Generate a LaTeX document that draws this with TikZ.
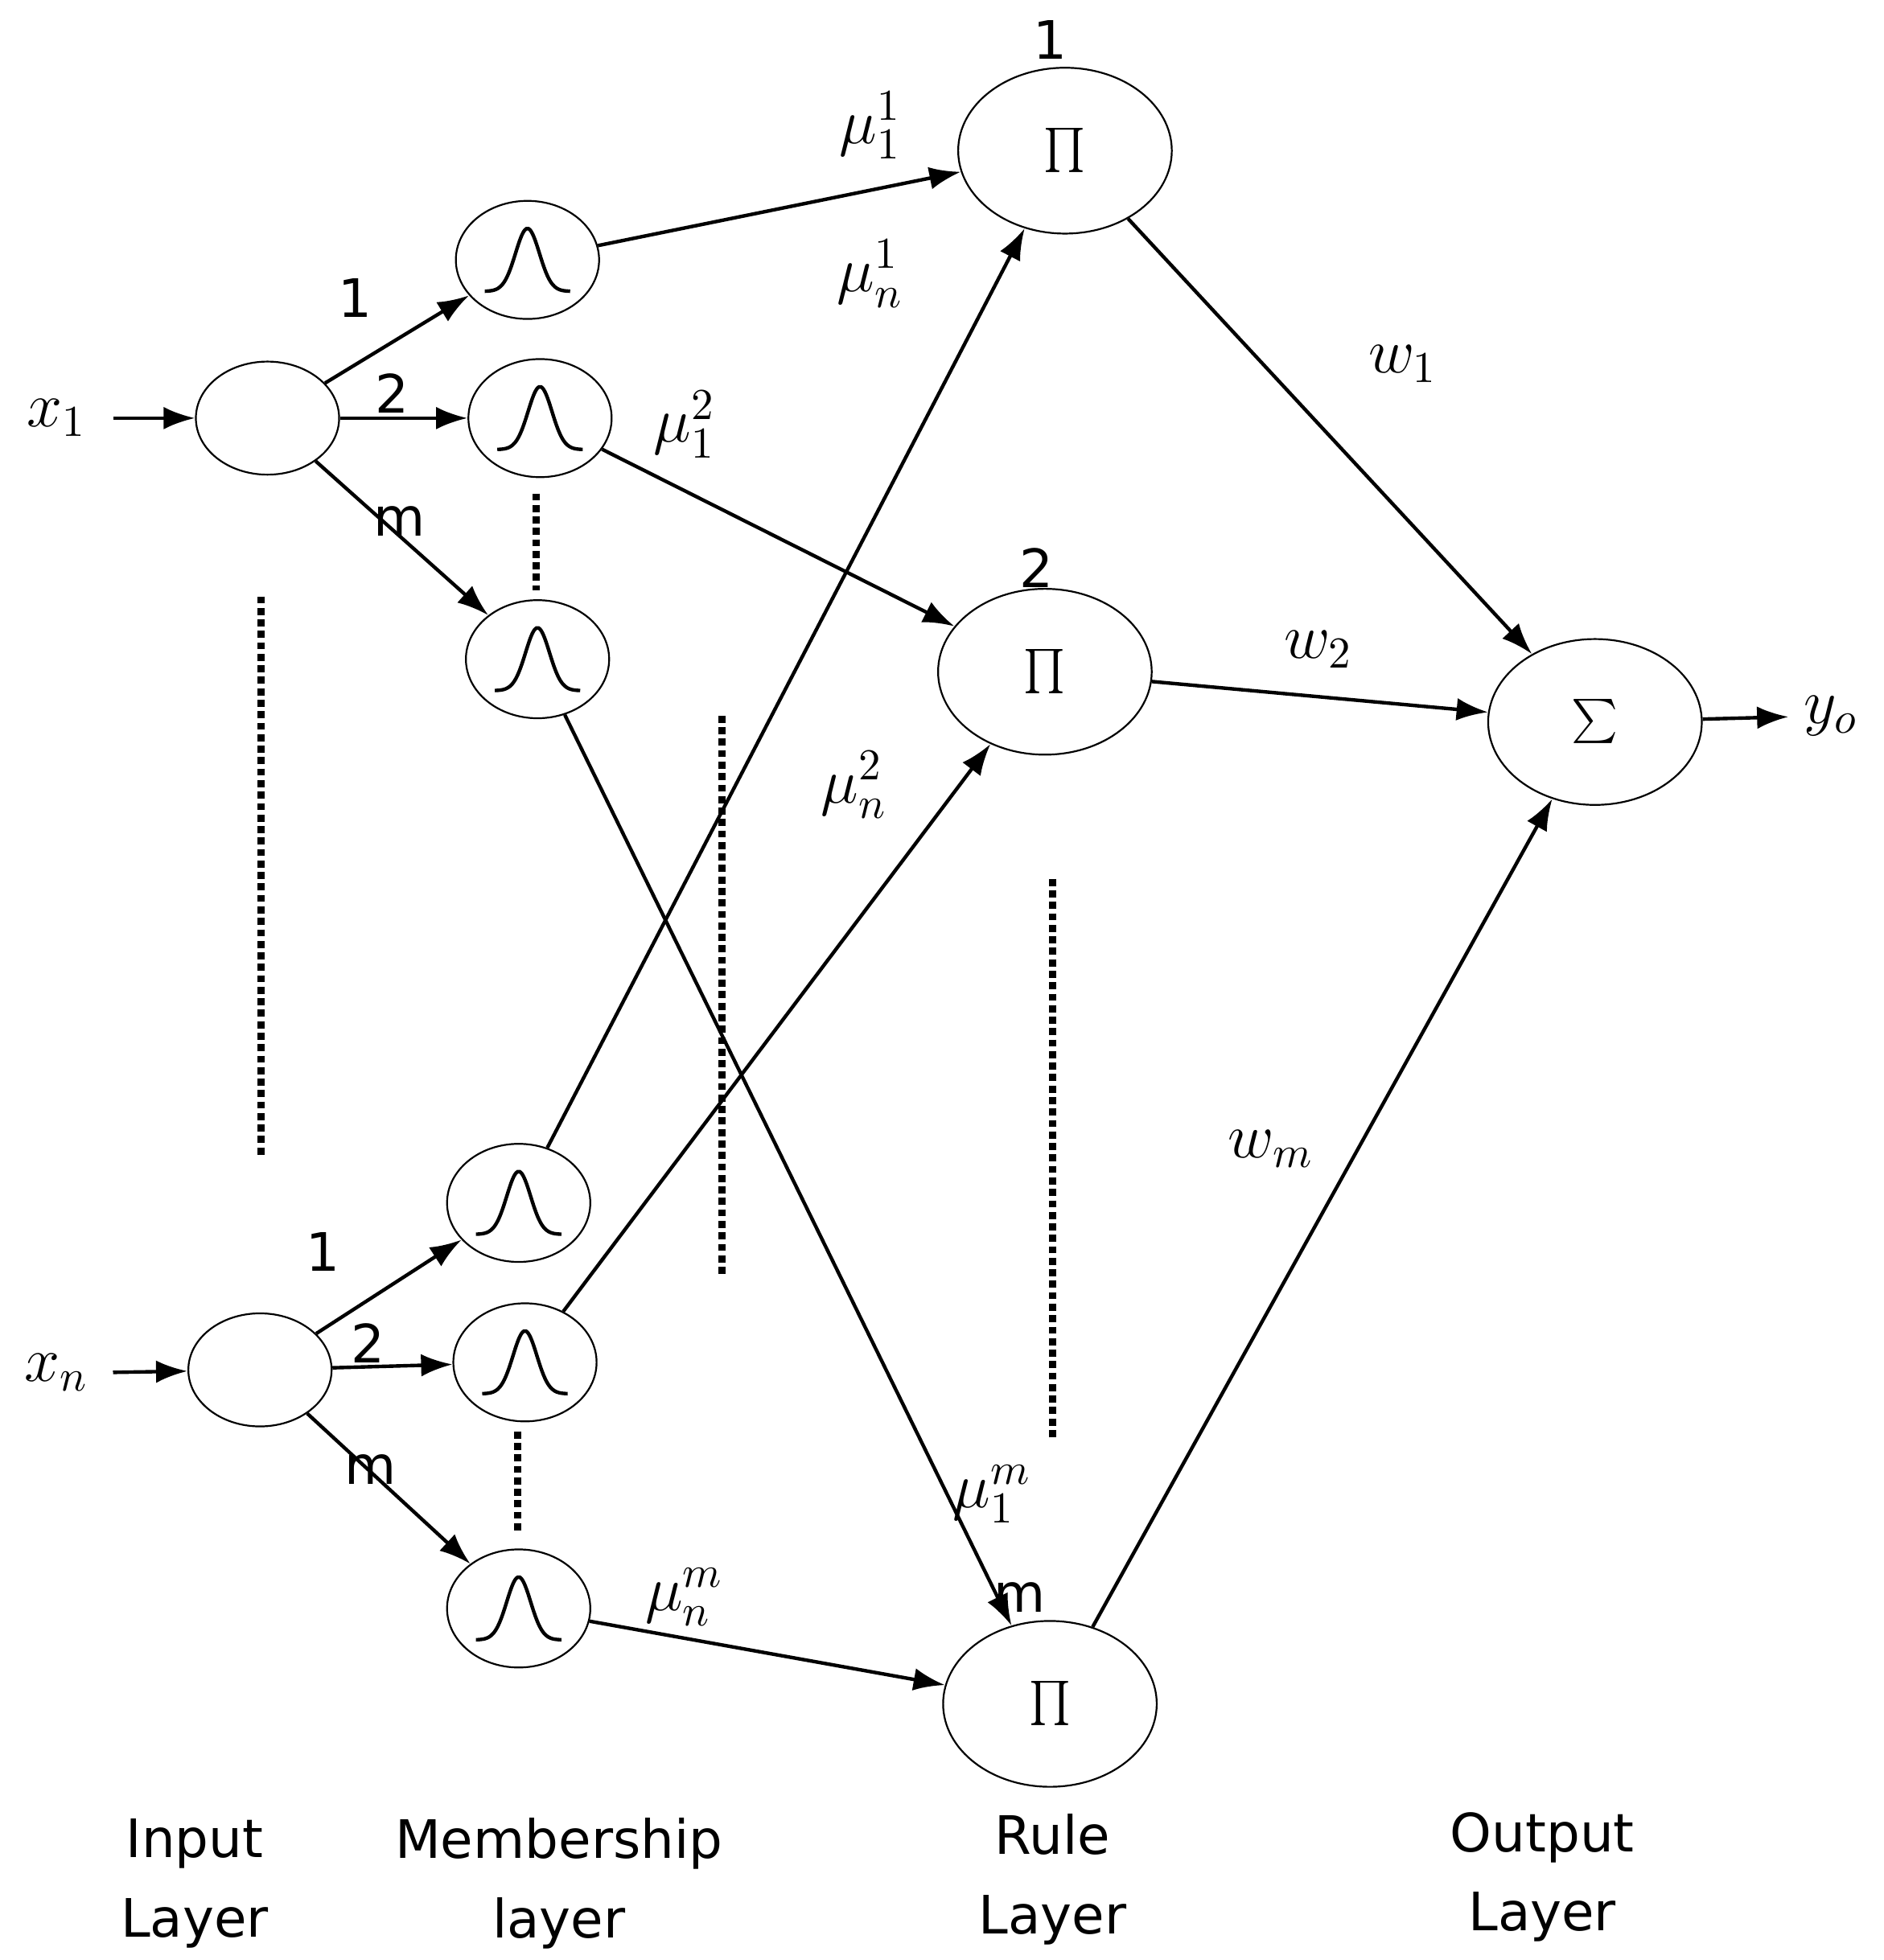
\documentclass[tikz,border=0pt]{standalone}
\usepackage{fontspec}
\newfontfamily\labfont{DejaVu Sans}
\usetikzlibrary{arrows.meta,shapes.geometric}
\begin{document}
\begin{tikzpicture}[x=0.01cm,y=-0.01cm,
 inp/.style={draw,ellipse,minimum width=1.14cm,minimum height=0.9cm,inner sep=0},
 mem/.style={draw,ellipse,minimum width=1.14cm,minimum height=0.94cm,inner sep=0},
 rule/.style={draw,ellipse,minimum width=1.7cm,minimum height=1.32cm,inner sep=0,font=\huge},
 arr/.style={-{Latex[length=2.5mm,width=1.8mm]},thick},
 dot/.style={densely dotted,line width=1.6pt},
 lab/.style={font=\labfont\fontsize{12}{14}\selectfont},
 ml/.style={font=\Large}]
\useasboundingbox (0,0) rectangle (1500,1561);
\node[inp] (i1) at (213,333) {};
\node[inp] (in) at (207,1091) {};
\foreach \n/\x/\y in {m11/420/207,m12/430/333,m1m/428/525,mn1/413/958,mn2/418/1085,mnm/413/1281}
 \node[mem] (\n) at (\x,\y) {};
\foreach \n in {m11,m12,m1m,mn1,mn2,mnm}{
 \draw[thick,shift={(\n.center)}] plot[domain=-0.34:0.34,samples=40,smooth] (\x cm,{(-0.25+0.5*exp(-(\x*\x)/0.018))*1cm});
}
\node[rule] (r1) at (848,120) {$\prod$};
\node[rule] (r2) at (832,535) {$\prod$};
\node[rule] (rm) at (836,1357) {$\prod$};
\node[rule] (s) at (1270,575) {$\sum$};
\node[ml] (x1) at (45,333) {$x_1$};
\node[ml] (xn) at (45,1093) {$x_n$};
\node[ml] (yo) at (1458,570) {$y_o$};
\coordinate (x1e) at (90,333);
\coordinate (xne) at (90,1093);
\draw[arr] (x1e) -- (i1);
\draw[arr] (xne) -- (in);
\draw[arr] (s) -- (yo);
\foreach \a/\b in {i1/m11,i1/m12,i1/m1m,in/mn1,in/mn2,in/mnm,m11/r1,m12/r2,m1m/rm,mn1/r1,mn2/r2,mnm/rm,r1/s,r2/s,rm/s}
 \draw[arr] (\a) -- (\b);
\draw[dot] (208,475) -- (208,920);
\draw[dot] (427,393) -- (427,470);
\draw[dot] (575,570) -- (575,1015);
\draw[dot] (838,700) -- (838,1145);
\draw[dot] (412,1140) -- (412,1222);
\foreach \t/\x/\y in {1/283/237,2/312/313,m/318/415,1/257/997,2/293/1070,m/295/1170,1/836/32,2/825/452,m/812/1272}
 \node[lab] at (\x,\y) {\t};
\node[ml] at (693,100) {$\mu_1^1$};
\node[ml] at (693,218) {$\mu_n^1$};
\node[ml] at (545,338) {$\mu_1^2$};
\node[ml] at (680,625) {$\mu_n^2$};
\node[ml] at (790,1190) {$\mu_1^m$};
\node[ml] at (545,1272) {$\mu_n^m$};
\node[ml] at (1117,290) {$w_1$};
\node[ml] at (1050,517) {$w_2$};
\node[ml] at (1012,915) {$w_m$};
\node[lab,align=center] at (155,1500) {Input\\[4pt]Layer};
\node[lab,align=center] at (445,1500) {Membership\\[4pt]layer};
\node[lab,align=center] at (838,1497) {Rule\\[4pt]Layer};
\node[lab,align=center] at (1228,1495) {Output\\[4pt]Layer};
\end{tikzpicture}
\end{document}
